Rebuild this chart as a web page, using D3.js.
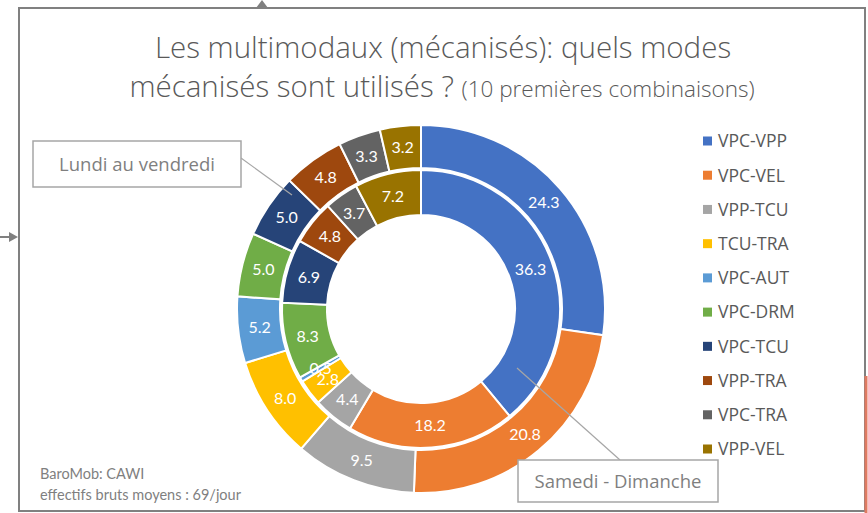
<!DOCTYPE html>
<html>
<head>
<meta charset="utf-8">
<script src="https://cdn.jsdelivr.net/npm/d3@7"></script>
<style>
  body { margin: 0; background: #fff; }
  svg { display: block; font-family: "Open Sans", Lato, sans-serif; }
</style>
</head>
<body>
<div id="chart"></div>
<script>
const categories = ["VPC-VPP", "VPC-VEL", "VPP-TCU", "TCU-TRA", "VPC-AUT",
                    "VPC-DRM", "VPC-TCU", "VPP-TRA", "VPC-TRA", "VPP-VEL"];
// outer ring: Lundi au vendredi
const weekdayValues = [24.3, 20.8, 9.5, 8.0, 5.2, 5.0, 5.0, 4.8, 3.3, 3.2];
// inner ring: Samedi - Dimanche
const weekendValues = [36.3, 18.2, 4.4, 2.8, 0.5, 8.3, 6.9, 4.8, 3.7, 7.2];
const palette = ["#4472C4", "#ED7D31", "#A5A5A5", "#FFC000", "#5B9BD5",
                 "#70AD47", "#264478", "#9E480E", "#636363", "#997300"];

const width = 868, height = 513;
const cx = 421, cy = 309;

const svg = d3.select("#chart")
  .append("svg")
  .attr("width", width)
  .attr("height", height);

const color = d3.scaleOrdinal(categories, palette);
const fmt = d3.format(".1f");

// slide frame + connector leftovers
svg.append("rect")
  .attr("x", 19).attr("y", 8)
  .attr("width", 846).attr("height", 503)
  .attr("fill", "#fff")
  .attr("stroke", "#808080")
  .attr("stroke-width", 2);

svg.append("line")
  .attr("x1", 866).attr("x2", 866)
  .attr("y1", 376).attr("y2", 513)
  .attr("stroke", "#E07A62").attr("stroke-width", 3);

svg.append("path")
  .attr("d", "M256,8 L262,0 L268,8 Z")
  .attr("fill", "#808080");
svg.append("line")
  .attr("x1", 0).attr("x2", 10).attr("y1", 237).attr("y2", 237)
  .attr("stroke", "#808080").attr("stroke-width", 2);
svg.append("path")
  .attr("d", "M9,232 L18,237 L9,242 Z")
  .attr("fill", "#808080");

// title
const title = svg.append("text")
  .attr("text-anchor", "middle")
  .attr("fill", "#595959")
  .style("font-weight", 300);
title.append("tspan")
  .attr("x", 443).attr("y", 58)
  .style("font-size", "29.5px")
  .text("Les multimodaux (mécanisés): quels modes");
const t2 = title.append("tspan")
  .attr("x", 442).attr("y", 97);
t2.append("tspan").style("font-size", "29.5px").text("mécanisés sont utilisés ? ");
t2.append("tspan").style("font-size", "22.5px").text("(10 premières combinaisons)");

// donut rings
const pie = d3.pie().sort(null).value(d => d.value);
const rings = [
  { values: weekdayValues, inner: 141, outer: 184 },
  { values: weekendValues, inner: 94, outer: 139 }
];

const g = svg.append("g").attr("transform", `translate(${cx},${cy})`);

rings.forEach(r => {
  const arc = d3.arc().innerRadius(r.inner).outerRadius(r.outer);
  const slices = pie(r.values.map((v, i) => ({ name: categories[i], value: v })));
  r.arc = arc;
  r.slices = slices;
  g.append("g")
    .selectAll("path")
    .data(slices)
    .join("path")
    .attr("d", arc)
    .attr("fill", d => color(d.data.name))
    .attr("stroke", "#fff")
    .attr("stroke-width", 2);
});

rings.forEach(r => {
  g.append("g")
    .selectAll("text")
    .data(r.slices)
    .join("text")
    .attr("transform", d => `translate(${r.arc.centroid(d)})`)
    .attr("text-anchor", "middle")
    .attr("dy", "0.36em")
    .attr("fill", "#fff")
    .style("font-family", "Lato, sans-serif")
    .style("font-size", "16px")
    .text(d => fmt(d.data.value));
});

// legend
const ly = d3.scalePoint().domain(categories).range([141, 449]);
const legend = svg.append("g")
  .selectAll("g")
  .data(categories)
  .join("g")
  .attr("transform", d => `translate(703,${ly(d)})`);
legend.append("rect")
  .attr("x", 0).attr("y", -4.5)
  .attr("width", 9).attr("height", 9)
  .attr("fill", d => color(d));
legend.append("text")
  .attr("x", 15)
  .attr("dy", "0.36em")
  .attr("fill", "#595959")
  .style("font-size", "17.5px")
  .text(d => d);

// callouts
function callout(x, y, w, h, label, lx1, ly1, lx2, ly2) {
  svg.append("line")
    .attr("x1", lx1).attr("y1", ly1)
    .attr("x2", lx2).attr("y2", ly2)
    .attr("stroke", "#A6A6A6").attr("stroke-width", 1.2);
  svg.append("rect")
    .attr("x", x).attr("y", y)
    .attr("width", w).attr("height", h)
    .attr("fill", "#fff")
    .attr("stroke", "#A6A6A6")
    .attr("stroke-width", 1.5);
  svg.append("text")
    .attr("x", x + w / 2).attr("y", y + h / 2)
    .attr("dy", "0.36em")
    .attr("text-anchor", "middle")
    .attr("fill", "#7F7F7F")
    .style("font-size", "18.5px")
    .text(label);
}
callout(33, 141, 208, 46, "Lundi au vendredi", 241, 158, 292, 195);
callout(518, 460, 200, 42, "Samedi - Dimanche", 620, 460, 517, 368);

// source note
const note = svg.append("text")
  .attr("fill", "#7F7F7F")
  .style("font-family", "Lato, sans-serif")
  .style("font-size", "14.5px");
note.append("tspan").attr("x", 40).attr("y", 479).text("BaroMob: CAWI");
note.append("tspan").attr("x", 40).attr("y", 500).text("effectifs bruts moyens : 69/jour");
</script>
</body>
</html>
